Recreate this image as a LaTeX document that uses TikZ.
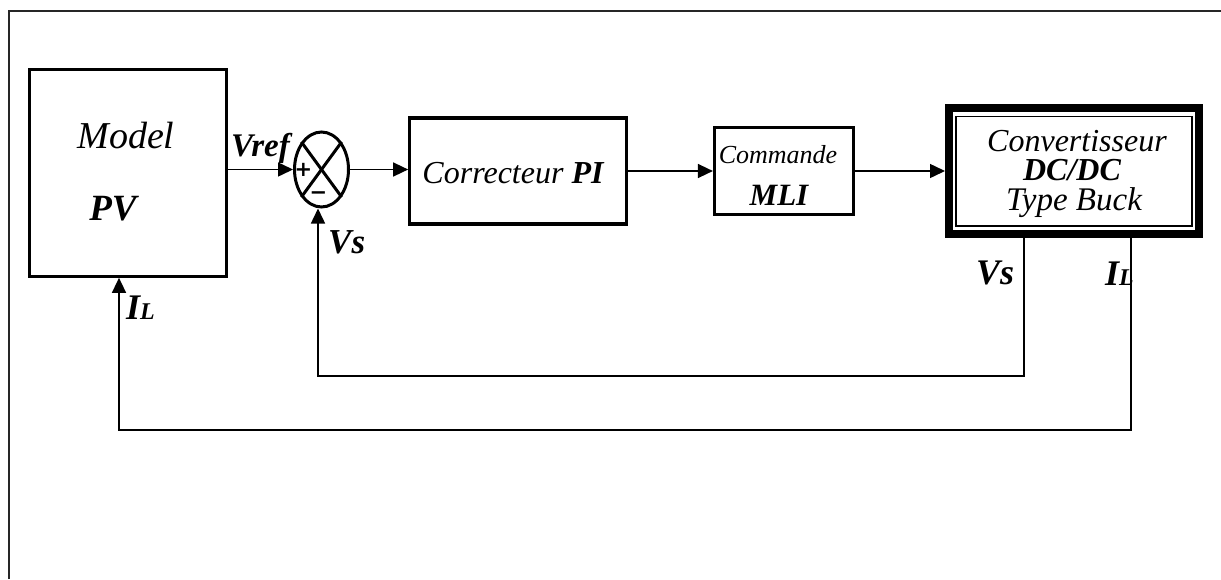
\documentclass[tikz,border=0pt]{standalone}
\usepackage{fontspec}
\setmainfont{Liberation Serif}
\newfontfamily\signfont{DejaVu Sans}
\usetikzlibrary{arrows.meta,shapes.geometric}

\newcommand{\fs}[1]{\fontsize{#1}{#1}\selectfont}

\tikzset{
  block/.style={draw, line width=3.2pt, inner sep=0pt},
  wire/.style={line width=1.5pt},
  flow/.style={wire, -{Triangle[length=15pt,width=14pt]}},
  lbl/.style={inner sep=0pt, anchor=base},
}

\begin{document}
\begin{tikzpicture}[x=1pt, y=-1pt]
  \useasboundingbox (0,0) rectangle (1221,579);

  % page frame (top and left edges)
  \draw[line width=1.6pt, black!85] (9,579) -- (9,11) -- (1221,11);

  % blocks
  \node[block, minimum width=196.5pt, minimum height=206.5pt] (pv) at (128,173) {};
  \node[block, ellipse, line width=3pt, minimum width=54pt, minimum height=75pt] (sj) at (321.5,169.5) {};
  \node[block, minimum width=216.5pt, minimum height=106pt] (pi) at (518,171) {};
  \node[block, minimum width=139pt, minimum height=87.5pt] (mli) at (784,171) {};
  \node[draw, line width=8pt, inner sep=0pt, minimum width=250pt, minimum height=126pt] (conv) at (1074,171) {};
  \node[draw, line width=1.5pt, inner sep=0pt, minimum width=236pt, minimum height=109.5pt] (convin) at (1074,171) {};

  % summing junction cross
  \draw[line width=3pt] (sj.north west) -- (sj.south east);
  \draw[line width=3pt] (sj.north east) -- (sj.south west);

  % texts
  \node[lbl, font=\fs{38}\itshape] (tmodel) at (126,148) {Model};
  \node[lbl, font=\fs{37}\bfseries\itshape] (tpv) at (113,220) {PV};
  \node[lbl, anchor=base west, font=\fs{33}\bfseries\itshape] (tvref) at (231,156) {Vref};
  \node[lbl, font=\signfont\fs{21}\bfseries] (tplus) at (303.5,176.5) {+};
  \node[lbl, font=\signfont\fs{21}\bfseries] (tminus) at (318.5,199.5) {−};
  \node[lbl, anchor=base west, font=\fs{35}\bfseries\itshape] (tvs1) at (328,253) {Vs};
  \node[lbl, font=\fs{32}\itshape] (tpi) at (513,183) {Correcteur \textbf{PI}};
  \node[lbl, font=\fs{26}\itshape] (tcmd) at (778,163) {Commande};
  \node[lbl, font=\fs{31}\bfseries\itshape] (tmli) at (779,205) {MLI};
  \node[lbl, font=\fs{32}\itshape] (tconv1) at (1077,151) {Convertisseur};
  \node[lbl, font=\fs{32}\bfseries\itshape] (tconv2) at (1072,180) {DC/DC};
  \node[lbl, font=\fs{33}\itshape] (tconv3) at (1074,210) {Type Buck};
  \node[lbl, anchor=base west, font=\fs{36}\bfseries\itshape] (tvs2) at (976,284) {Vs};
  \node[lbl, anchor=base west, font=\fs{36}\bfseries\itshape] (til2) at (1105,285) {I{\fs{24}L}};
  \node[lbl, anchor=base west, font=\fs{36}\bfseries\itshape] (til1) at (126,319) {I{\fs{24}L}};

  % feedback corners
  \coordinate (j1) at (1024,376);
  \coordinate (j2) at (318,376);
  \coordinate (k1) at (1131,430);
  \coordinate (k2) at (119,430);

  % forward path
  \draw[flow] (sj.west -| pv.east) -- (sj.west);
  \draw[flow] (sj.east) -- (sj.east -| pi.west);
  \draw[flow] (pi.east) -- (mli.west);
  \draw[flow] (mli.east) -- (conv.west);

  % feedback paths
  \draw[flow] (conv.south -| j1) -- (j1) -- (j2) -- (j2 |- sj.south);
  \draw[flow] (conv.south -| k1) -- (k1) -- (k2) -- (k2 |- pv.south);
\end{tikzpicture}
\end{document}
